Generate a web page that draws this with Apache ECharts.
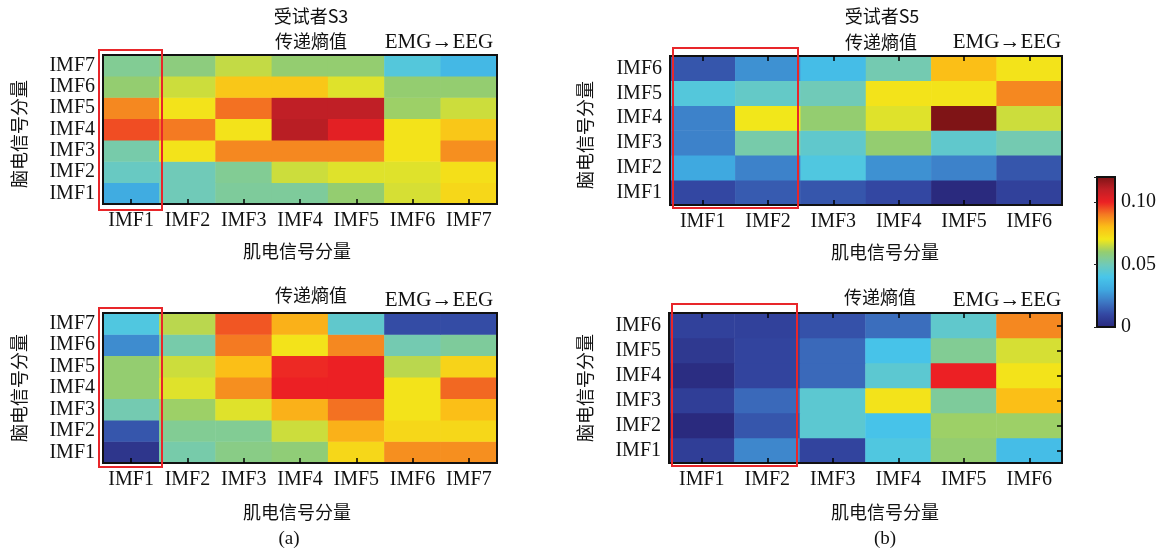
<!DOCTYPE html>
<html>
<head>
    <meta charset="utf-8">
    <title>传递熵值</title>
    <script src="https://cdn.jsdelivr.net/npm/echarts@6/dist/echarts.min.js"></script>
</head>
<body style="margin:0;background:#fff;">
<div id="main" style="width:1168px;height:553px;"></div>
<script type="text/javascript">
    // 分量名称
    var imf7 = ['IMF1', 'IMF2', 'IMF3', 'IMF4', 'IMF5', 'IMF6', 'IMF7'];
    var imf6 = ['IMF1', 'IMF2', 'IMF3', 'IMF4', 'IMF5', 'IMF6'];

    // 每行 = 脑电分量 IMF1..IMFn，每列 = 肌电分量 IMF1..IMFn
    var s3Top = [
        [0.031, 0.050, 0.054, 0.054, 0.060, 0.067, 0.074],
        [0.048, 0.050, 0.055, 0.066, 0.068, 0.068, 0.072],
        [0.052, 0.071, 0.088, 0.088, 0.088, 0.071, 0.087],
        [0.095, 0.090, 0.071, 0.111, 0.102, 0.071, 0.078],
        [0.088, 0.071, 0.091, 0.110, 0.110, 0.061, 0.066],
        [0.060, 0.066, 0.078, 0.078, 0.068, 0.060, 0.060],
        [0.055, 0.058, 0.065, 0.060, 0.060, 0.043, 0.035]
    ];
    var s3Bottom = [
        [0.004, 0.052, 0.057, 0.059, 0.074, 0.087, 0.087],
        [0.013, 0.055, 0.055, 0.066, 0.082, 0.074, 0.074],
        [0.051, 0.061, 0.068, 0.082, 0.091, 0.071, 0.080],
        [0.060, 0.068, 0.087, 0.100, 0.100, 0.071, 0.092],
        [0.060, 0.066, 0.080, 0.099, 0.100, 0.064, 0.075],
        [0.024, 0.052, 0.090, 0.071, 0.088, 0.051, 0.054],
        [0.042, 0.064, 0.094, 0.082, 0.046, 0.011, 0.011]
    ];
    var s5Top = [
        [0.010, 0.014, 0.013, 0.010, 0.000, 0.008],
        [0.030, 0.022, 0.042, 0.025, 0.022, 0.013],
        [0.022, 0.052, 0.046, 0.060, 0.046, 0.051],
        [0.022, 0.070, 0.060, 0.068, 0.120, 0.066],
        [0.043, 0.047, 0.050, 0.071, 0.071, 0.088],
        [0.013, 0.025, 0.037, 0.051, 0.080, 0.071]
    ];
    var s5Bottom = [
        [0.007, 0.023, 0.009, 0.042, 0.060, 0.037],
        [0.000, 0.013, 0.045, 0.039, 0.061, 0.061],
        [0.007, 0.017, 0.045, 0.071, 0.054, 0.080],
        [0.001, 0.009, 0.017, 0.045, 0.100, 0.071],
        [0.005, 0.009, 0.017, 0.039, 0.055, 0.067],
        [0.008, 0.008, 0.012, 0.018, 0.046, 0.088]
    ];
    var barTicks = [0, 0.05, 0.10];

    var serif = 'Liberation Serif';
    var cjk = 'Noto Sans CJK SC';

    function toCells(m) {
        var out = [];
        for (var r = 0; r < m.length; r++) {
            for (var c = 0; c < m[r].length; c++) {
                out.push([c, r, m[r][c]]);
            }
        }
        return out;
    }

    var grids = [
        {left: 103, top: 55, width: 394, height: 149},
        {left: 103, top: 313, width: 394, height: 150},
        {left: 670, top: 56, width: 392, height: 149},
        {left: 669, top: 313, width: 393, height: 150},
        {left: 1097, top: 177, width: 18, height: 150}   // 色条
    ];
    grids.forEach(function (g) {
        g.show = true;
        g.z = 10;
        g.borderColor = '#111';
        g.borderWidth = 2;
        g.backgroundColor = 'transparent';
    });

    var tickStyle = {show: true, inside: true, alignWithLabel: true, length: 5, lineStyle: {color: '#000', width: 1.5}};
    var cats = [imf7, imf7, imf6, imf6];
    var xAxes = [], yAxes = [], series = [];
    var mats = [s3Top, s3Bottom, s5Top, s5Bottom];
    for (var i = 0; i < 4; i++) {
        xAxes.push({
            type: 'category', gridIndex: i, data: cats[i], z: 12,
            axisLine: {show: false},
            axisTick: tickStyle,
            axisLabel: {interval: 0, hideOverlap: false, fontFamily: serif, fontSize: 20, color: '#111', margin: 7},
            splitLine: {show: false}
        });
        yAxes.push({
            type: 'category', gridIndex: i, data: cats[i], z: 12,
            axisLine: {show: false},
            axisTick: {show: false},
            axisLabel: {interval: 0, hideOverlap: false, fontFamily: serif, fontSize: 20, color: '#111', margin: 8},
            splitLine: {show: false}
        });
        series.push({
            type: 'heatmap', xAxisIndex: i, yAxisIndex: i,
            data: toCells(mats[i]),
            emphasis: {disabled: true}
        });
    }
    // 色条坐标轴
    xAxes.push({type: 'value', gridIndex: 4, show: false, min: 0, max: 1});
    yAxes.push({
        type: 'value', gridIndex: 4, position: 'right', min: 0, max: 0.12,
        interval: 0.05, z: 12,
        axisLine: {show: false},
        axisTick: {show: true, inside: true, length: 3, lineStyle: {color: '#222'}},
        splitLine: {show: false},
        axisLabel: {
            fontFamily: serif, fontSize: 20, color: '#111', margin: 6,
            formatter: function (v) {
                for (var k = 0; k < barTicks.length; k++) {
                    if (Math.abs(v - barTicks[k]) < 1e-9) return v === 0 ? '0' : v.toFixed(2);
                }
                return '';
            }
        }
    });
    // (b) 图上边与右边的刻度
    [2, 3].forEach(function (gi) {
        xAxes.push({
            type: 'category', gridIndex: gi, position: 'top', data: imf6, z: 12,
            axisLine: {show: false}, axisTick: tickStyle, axisLabel: {show: false}, splitLine: {show: false}
        });
    });
    yAxes.push({
        type: 'category', gridIndex: 3, position: 'right', data: imf6, z: 12,
        axisLine: {show: false}, axisTick: tickStyle, axisLabel: {show: false}, splitLine: {show: false}
    });

    function txt(x, y, s, font, size) {
        return {
            type: 'text', x: x, y: y,
            style: {text: s, font: size + 'px "' + font + '"', fill: '#111', align: 'center', verticalAlign: 'middle'}
        };
    }
    function vtxt(x, y, s) {
        return {
            type: 'text', x: x, y: y, rotation: Math.PI / 2,
            style: {text: s, font: '18px "' + cjk + '"', fill: '#111', align: 'center', verticalAlign: 'middle'}
        };
    }
    function box(x1, y1, x2, y2) {
        return {
            type: 'rect', z: 100,
            shape: {x: x1, y: y1, width: x2 - x1, height: y2 - y1},
            style: {fill: 'none', stroke: '#e8262a', lineWidth: 2}
        };
    }

    var graphics = [
        txt(311, 16, '受试者S3', cjk, 18),
        txt(311, 41, '传递熵值', cjk, 18),
        txt(439, 42, 'EMG→EEG', serif, 21),
        txt(311, 295, '传递熵值', cjk, 18),
        txt(439, 300, 'EMG→EEG', serif, 21),
        txt(297, 251, '肌电信号分量', cjk, 18),
        txt(297, 512, '肌电信号分量', cjk, 18),
        txt(289, 539, '(a)', serif, 19),
        txt(882, 16, '受试者S5', cjk, 18),
        txt(881, 42, '传递熵值', cjk, 18),
        txt(1007, 42, 'EMG→EEG', serif, 21),
        txt(880, 297, '传递熵值', cjk, 18),
        txt(1007, 300, 'EMG→EEG', serif, 21),
        txt(885, 252, '肌电信号分量', cjk, 18),
        txt(885, 512, '肌电信号分量', cjk, 18),
        txt(885, 539, '(b)', serif, 19),
        vtxt(19, 134, '脑电信号分量'),
        vtxt(19, 388, '脑电信号分量'),
        vtxt(585, 135, '脑电信号分量'),
        vtxt(585, 388, '脑电信号分量'),
        box(99, 50, 162, 210),
        box(99, 308, 162, 467),
        box(673, 48, 798, 208),
        box(672, 304, 797, 466)
    ];

    var chart = echarts.init(document.getElementById('main'));
    chart.setOption({
        animation: false,
        backgroundColor: '#fff',
        grid: grids,
        xAxis: xAxes,
        yAxis: yAxes,
        visualMap: {
            type: 'continuous', min: 0, max: 0.12, seriesIndex: [0, 1, 2, 3],
            calculable: false, left: 1097, top: 177, padding: 0,
            itemWidth: 18, itemHeight: 150, text: null, showLabel: false,
            inRange: {
                color: ['#2a2a7e', '#3347a2', '#3d78c4', '#3fa9e0', '#48c6ea', '#70cab8',
                    '#94cd70', '#f2e71a', '#fbbf17', '#f47a22', '#ec2024', '#c01f26', '#7f1416']
            }
        },
        graphic: graphics,
        series: series
    });
</script>
</body>
</html>
